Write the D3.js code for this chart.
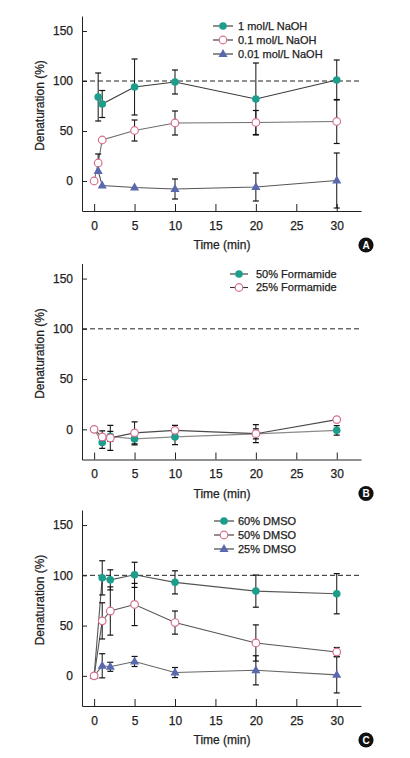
<!DOCTYPE html>
<html>
<head>
<meta charset="utf-8">
<script src="https://cdn.jsdelivr.net/npm/d3@7"></script>
<style>
  html, body { margin: 0; padding: 0; background: #fff; }
  svg { display: block; font-family: "Liberation Sans", Arial, sans-serif; }
  .lbl { stroke: #222; stroke-width: 0.25px; }
</style>
</head>
<body>
<svg id="chart" width="410" height="758"></svg>
<script>
// ---------- DATA ----------
const xTicks = [0, 5, 10, 15, 20, 25, 30];
const yTicks = [0, 50, 100, 150];

// Panel A: NaOH
const timeA1 = [0.5, 1, 5, 10, 20, 30];
const naoh1 = [84, 77, 94, 99, 82, 101];
const naoh1Err = [24, 13.5, 28, 12, 36, 20];
const timeA2 = [0, 0.5, 1, 5, 10, 20, 30];
const naoh01 = [0, 18, 41, 50.5, 58, 58.5, 59.5];
const naoh01Err = [null, 9, null, 10.5, 12, 12, 22];
const timeA3 = [0.5, 1, 5, 10, 20, 30];
const naoh001 = [10, -4.5, -6.5, -8, -6, 0.5];
const naoh001Err = [null, null, null, 10, 14, 27.5];

// Panel B: Formamide
const timeB = [0, 1, 2, 5, 10, 20, 30];
const form50 = [0, -13, -7, -9.5, -7.5, -4.5, -1];
const form50Err = [null, 6, 5, 6, 7.7, 5, 4.7];
const form25 = [0, -7.5, -8.5, -3.5, -1, -4.3, 9.7];
const form25Err = [null, 6, 12.5, 11, 5, 9, null];

// Panel C: DMSO
const timeC = [0, 1, 2, 5, 10, 20, 30];
const dmso60 = [0, 97.5, 95.5, 100.5, 93, 84.3, 81.7];
const dmso60Err = [null, 17, 10, 12.5, 11.5, 16, 20];
const dmso50 = [0, 54.7, 64.5, 71, 53, 32.7, 23.7];
const dmso50Err = [null, 18, 24, 21, 11.5, 18, 4.5];
const dmso25 = [0, 10, 9, 14.3, 3.3, 5.5, 1];
const dmso25Err = [null, 12, 4.5, 5, 5, 14.5, 18];

// ---------- STYLE ----------
const TEAL = "#1b9e8c", PINK = "#d5708b", BLUE = "#5a68ad";
const markerStyles = {
  filled: { kind: "circle", fill: TEAL, stroke: "none" },
  open: { kind: "circle", fill: "#fff", stroke: PINK },
  tri: { kind: "tri", fill: BLUE, stroke: "none" }
};

function mk(name, xs, ys, errs, marker, lineColor) {
  return { name, marker, lineColor, pts: xs.map((x, i) => ({ x, y: ys[i], e: errs[i] })) };
}

const panels = [
  {
    letter: "A", top: 16, bottom: 211,
    legend: { x: 223, lineL: 213, lineR: 233, textX: 238, y0: 26, dy: 14 },
    series: [
      mk("1 mol/L NaOH", timeA1, naoh1, naoh1Err, "filled", "#3a3a3a"),
      mk("0.1 mol/L NaOH", timeA2, naoh01, naoh01Err, "open", "#6e6e6e"),
      mk("0.01 mol/L NaOH", timeA3, naoh001, naoh001Err, "tri", "#555")
    ],
    drawOrder: [0, 1, 2]
  },
  {
    letter: "B", top: 263.5, bottom: 459.5,
    legend: { x: 239, lineL: 230, lineR: 248, textX: 256, y0: 274, dy: 13.5 },
    series: [
      mk("50% Formamide", timeB, form50, form50Err, "filled", "#8a8a8a"),
      mk("25% Formamide", timeB, form25, form25Err, "open", "#4a4a4a")
    ],
    drawOrder: [0, 1]
  },
  {
    letter: "C", top: 510, bottom: 706,
    legend: { x: 224, lineL: 214, lineR: 234, textX: 238, y0: 521, dy: 14 },
    series: [
      mk("60% DMSO", timeC, dmso60, dmso60Err, "filled", "#555"),
      mk("50% DMSO", timeC, dmso50, dmso50Err, "open", "#555"),
      mk("25% DMSO", timeC, dmso25, dmso25Err, "tri", "#666")
    ],
    drawOrder: [0, 2, 1]
  }
];

// ---------- DRAW ----------
const svg = d3.select("#chart");
const left = 82, right = 361;
const x = d3.scaleLinear().domain([-1.5, 33]).range([left, right]);
const AX = "#222";

function drawMarker(g, kind, cx, cy) {
  const st = markerStyles[kind];
  if (st.kind === "circle") {
    g.append("circle").attr("cx", cx).attr("cy", cy).attr("r", 3.8)
      .attr("fill", st.fill).attr("stroke", st.stroke).attr("stroke-width", 1.2);
  } else {
    g.append("path").attr("d", d3.symbol().type(d3.symbolTriangle).size(36)())
      .attr("transform", `translate(${cx},${cy + 0.3})`).attr("fill", st.fill);
  }
}

panels.forEach((p, pi) => {
  const y = d3.scaleLinear().domain([-30, 165]).range([p.bottom, p.top]);
  const g = svg.append("g");
  const clipId = "clip" + pi;
  svg.append("defs").append("clipPath").attr("id", clipId)
    .append("rect").attr("x", left).attr("y", p.top).attr("width", right - left + 2).attr("height", p.bottom - p.top);

  // dashed 100% line
  g.append("line").attr("x1", left).attr("x2", right + 1)
    .attr("y1", y(100)).attr("y2", y(100))
    .attr("stroke", AX).attr("stroke-width", 1).attr("stroke-dasharray", "5,3");

  // axes
  const yAxis = d3.axisLeft(y).tickValues(yTicks).tickSizeInner(-5).tickSizeOuter(0).tickPadding(9);
  const gy = g.append("g").attr("transform", `translate(${left},0)`).call(yAxis);
  const xAxis = d3.axisBottom(x).tickValues(xTicks).tickSizeInner(-7).tickSizeOuter(0).tickPadding(10);
  const gx = g.append("g").attr("transform", `translate(0,${p.bottom})`).call(xAxis);
  [gx, gy].forEach(a => {
    a.select(".domain").attr("stroke", AX);
    a.selectAll(".tick line").attr("stroke", AX);
    a.selectAll(".tick text").attr("fill", AX).attr("class", "lbl").style("font-size", "12px")
      .style("font-family", '"Liberation Sans", Arial, sans-serif');
  });
  g.append("text").attr("class", "lbl").attr("x", 222).attr("y", p.bottom + 38)
    .attr("text-anchor", "middle").attr("fill", AX).style("font-size", "12px").text("Time (min)");
  g.append("text").attr("class", "lbl").attr("transform", `translate(44,${(p.top + p.bottom) / 2 - 8}) rotate(-90)`)
    .attr("text-anchor", "middle").attr("fill", AX).style("font-size", "12px").text("Denaturation (%)");

  // data layer
  const dg = g.append("g").attr("clip-path", `url(#${clipId})`);
  const line = d3.line().x(d => x(d.x)).y(d => y(d.y));
  p.series.forEach(s => {
    dg.append("path").attr("d", line(s.pts)).attr("fill", "none")
      .attr("stroke", s.lineColor).attr("stroke-width", 1.1);
  });
  // error bars
  p.series.forEach(s => {
    s.pts.forEach(d => {
      if (d.e == null) return;
      const cx = x(d.x), y1 = y(d.y + d.e), y2 = y(d.y - d.e);
      dg.append("line").attr("x1", cx).attr("x2", cx).attr("y1", y1).attr("y2", y2)
        .attr("stroke", "#111").attr("stroke-width", 1);
      [y1, y2].forEach(yy => dg.append("line").attr("x1", cx - 3).attr("x2", cx + 3)
        .attr("y1", yy).attr("y2", yy).attr("stroke", "#111").attr("stroke-width", 1.2));
    });
  });
  // markers
  p.drawOrder.forEach(si => {
    const s = p.series[si];
    s.pts.forEach(d => drawMarker(dg, s.marker, x(d.x), y(d.y)));
  });

  // legend
  const L = p.legend;
  p.series.forEach((s, i) => {
    const ly = L.y0 + i * L.dy;
    g.append("line").attr("x1", L.lineL).attr("x2", L.lineR).attr("y1", ly).attr("y2", ly)
      .attr("stroke", "#333").attr("stroke-width", 1.1);
    drawMarker(g, s.marker, L.x, ly);
    g.append("text").attr("class", "lbl").attr("x", L.textX).attr("y", ly).attr("dy", "0.36em")
      .attr("fill", AX).style("font-size", "11px").text(s.name);
  });

  // panel letter badge
  const by = p.bottom + 34;
  g.append("circle").attr("cx", 366).attr("cy", by).attr("r", 7.6).attr("fill", "#111");
  g.append("text").attr("x", 366).attr("y", by).attr("dy", "0.36em").attr("text-anchor", "middle")
    .attr("fill", "#fff").style("font-size", "10px").style("font-weight", "bold").text(p.letter);
});
</script>
</body>
</html>
